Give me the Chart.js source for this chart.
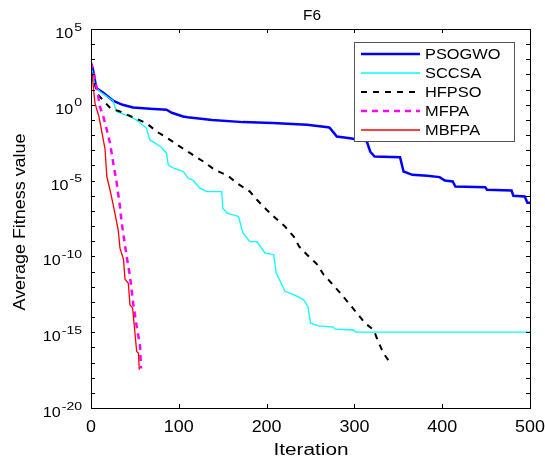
<!DOCTYPE html>
<html>
<head>
<meta charset="utf-8">
<title>F6</title>
<script src="https://cdn.jsdelivr.net/npm/chart.js@4.4.1/dist/chart.umd.min.js"></script>
<style>
  html, body { margin: 0; padding: 0; background: #fff; }
  #chartF6 { display: block; }
</style>
</head>
<body>
<canvas id="chartF6" width="545" height="459"></canvas>
<script>
// convergence curves, iteration -> average fitness
const psogwoIter = [0, 2, 6, 14, 25, 36, 48, 67, 86, 92, 105, 110, 138, 173, 207, 246, 270, 272, 280, 295, 314, 318, 323, 352, 356, 366, 383, 397, 403, 412, 415, 449, 451, 479, 481, 494, 497, 500];
const psogwoVal = [5.0e2, 2.5e2, 1.3e1, 6.2, 1.9, 1.0, 6.6e-1, 5.5e-1, 4.7e-1, 3.0e-1, 1.7e-1, 1.5e-1, 1.0e-1, 7.2e-2, 6.2e-2, 4.8e-2, 3.3e-2, 3.0e-2, 8.1e-3, 6.3e-3, 4.0e-3, 8.3e-4, 3.9e-4, 3.5e-4, 4.0e-5, 2.4e-5, 2.1e-5, 1.7e-5, 1.0e-5, 8.7e-6, 4.1e-6, 3.7e-6, 2.5e-6, 2.2e-6, 1.0e-6, 8.9e-7, 3.5e-7, 3.5e-7];

const sccsaIter = [0, 1.5, 4.5, 10, 25, 29, 44, 52, 63, 67, 79, 86, 88, 94, 105, 111, 116, 124, 132, 149, 150, 155, 168, 173, 181, 189, 198, 208, 211, 221, 234, 242, 247, 250, 259, 276, 278, 299, 301, 500];
const sccsaVal = [2.5e2, 1.6e2, 1.6e1, 7.6, 1.9, 3.6e-1, 1.7e-1, 1.0e-1, 2.9e-2, 4.9e-3, 1.8e-3, 6.5e-4, 1.1e-4, 6.6e-5, 4.0e-5, 1.4e-5, 1.1e-5, 3.2e-6, 1.9e-6, 1.9e-6, 1.5e-7, 7.2e-8, 4.3e-8, 3.5e-9, 9.5e-10, 9.5e-10, 1.7e-10, 1.3e-10, 7.9e-12, 5.0e-13, 2.5e-13, 1.4e-13, 5.0e-14, 4.0e-15, 2.6e-15, 2.2e-15, 1.6e-15, 1.4e-15, 1.0e-15, 1.0e-15];

const hfpsoIter = [0, 1.5, 8, 22, 33, 63, 75, 90, 101, 113, 128, 141, 156, 166, 181, 189, 200, 210, 221, 231, 237, 246, 257, 265, 274, 284, 295, 303, 312, 322, 327, 333, 341];
const hfpsoVal = [1.5e2, 7.4e1, 4.6, 6.0e-1, 3.6e-1, 6.2e-2, 1.7e-2, 4.9e-3, 1.8e-3, 6.5e-4, 1.8e-4, 5.1e-5, 2.1e-5, 6.8e-6, 1.9e-6, 5.4e-7, 1.2e-7, 3.4e-8, 9.3e-9, 2.0e-9, 4.5e-10, 1.3e-10, 3.2e-11, 6.2e-12, 1.7e-12, 3.8e-13, 6.5e-14, 1.8e-14, 4.0e-15, 1.4e-15, 2.5e-16, 4.2e-17, 9.1e-18];

const mfpaIter = [0, 2.6, 8.3, 10, 14, 18, 21.6, 25.4, 29.3, 33, 35, 40.6, 44.4, 48, 52, 55.8, 57];
const mfpaVal = [6.0e2, 2.0e2, 3.5, 7.8e-1, 1.7e-1, 2.2e-2, 3.0e-3, 1.4e-4, 6.8e-6, 1.9e-7, 1.6e-8, 1.0e-10, 5.0e-12, 8.0e-14, 2.5e-15, 1.3e-16, 4.0e-18];

const mbfpaIter = [0, 1.5, 4.5, 9, 16, 18, 21.6, 25, 31, 33, 37, 38.7, 42.5, 44.4, 47.4, 49, 52, 54, 55];
const mbfpaVal = [1.0e2, 7.4e1, 1.3, 1.7e-1, 1.2e-3, 1.9e-5, 2.5e-6, 3.0e-7, 5.6e-9, 3.5e-10, 6.3e-11, 3.2e-12, 1.7e-12, 6.3e-14, 4.0e-14, 4.0e-15, 5.4e-17, 4.2e-17, 3.3e-18];

const xTicks = [0, 100, 200, 300, 400, 500];
const yLabelExps = [5, 0, -5, -10, -15, -20];
const yMinorExps = [5, 4, 3, 2, 1, 0, -1, -2, -3, -4, -5, -6, -7, -8, -9, -10, -11, -12, -13, -14, -15, -16, -17, -18, -19, -20];

const pts = (xs, ys) => xs.map((x, i) => ({ x: x, y: ys[i] }));

const series = [
    { label: 'PSOGWO', color: '#0000ff', width: 2.5, dash: [], iter: psogwoIter, val: psogwoVal },
    { label: 'SCCSA', color: '#00ffff', width: 1.3, dash: [], iter: sccsaIter, val: sccsaVal },
    { label: 'HFPSO', color: '#000000', width: 2, dash: [6, 6], iter: hfpsoIter, val: hfpsoVal },
    { label: 'MFPA', color: '#ff00ff', width: 2.5, dash: [6, 5], iter: mfpaIter, val: mfpaVal },
    { label: 'MBFPA', color: '#ff0000', width: 1.3, dash: [], iter: mbfpaIter, val: mbfpaVal },
];

const FONT = '"Liberation Sans", Arial, Helvetica, sans-serif';

// text with a horizontal stretch, like the exported matlab figure
function stretchText(ctx, s, x, y, size, sx, align, rot) {
    ctx.save();
    ctx.translate(x, y);
    if (rot) ctx.rotate(rot);
    ctx.scale(sx, 1);
    ctx.font = size + 'px ' + FONT;
    ctx.textAlign = align;
    ctx.textBaseline = 'alphabetic';
    ctx.fillStyle = '#000';
    ctx.fillText(s, 0, 0);
    const w = ctx.measureText(s).width * sx;
    ctx.restore();
    return w;
}

const matlabAxes = {
    id: 'matlabAxes',
    afterDatasetsDraw(chart) {
        const ctx = chart.ctx;
        const a = chart.chartArea;
        const xs = chart.scales.x;
        const ys = chart.scales.y;

        ctx.save();
        ctx.strokeStyle = '#000';
        ctx.lineWidth = 1;
        ctx.setLineDash([]);

        // ticks point inwards on every side
        ctx.beginPath();
        xTicks.forEach(v => {
            const px = Math.round(xs.getPixelForValue(v)) + 0.5;
            ctx.moveTo(px, a.bottom); ctx.lineTo(px, a.bottom - 4);
            ctx.moveTo(px, a.top); ctx.lineTo(px, a.top + 4);
        });
        yMinorExps.forEach(e => {
            const py = Math.round(ys.getPixelForValue(Math.pow(10, e))) + 0.5;
            ctx.moveTo(a.left, py); ctx.lineTo(a.left + 4, py);
            ctx.moveTo(a.right, py); ctx.lineTo(a.right - 4, py);
        });
        ctx.stroke();
        ctx.strokeRect(a.left + 0.5, a.top + 0.5, a.right - a.left, a.bottom - a.top);

        // tick labels
        xTicks.forEach(v => {
            stretchText(ctx, String(v), xs.getPixelForValue(v), a.bottom + 23.5, 16, 1.12, 'center');
        });
        yLabelExps.forEach(e => {
            const py = ys.getPixelForValue(Math.pow(10, e));
            const sup = e < 0 ? '-' + Math.abs(e) : String(e);
            const w = stretchText(ctx, sup, a.left - 9, py + 1.5, 10, 1.4, 'right');
            stretchText(ctx, '10', a.left - 10 - w, py + 9, 14, 1.15, 'right');
        });

        // title and axis names
        stretchText(ctx, 'F6', 312, 20, 14, 1.1, 'center');
        stretchText(ctx, 'Iteration', 311, 455, 16, 1.3, 'center');
        stretchText(ctx, 'Average Fitness value', 25, 222, 16, 1.12, 'center', -Math.PI / 2);

        // legend box
        const lx = 354, ly = 42, lw = 160, lh = 99;
        ctx.fillStyle = '#fff';
        ctx.fillRect(lx, ly, lw, lh);
        ctx.strokeStyle = '#555';
        ctx.lineWidth = 1;
        ctx.strokeRect(lx + 0.5, ly + 0.5, lw, lh);
        chart.data.datasets.forEach((ds, i) => {
            const ry = 54 + i * 19;
            ctx.beginPath();
            ctx.strokeStyle = ds.borderColor;
            ctx.lineWidth = ds.borderWidth;
            ctx.setLineDash(ds.borderDash || []);
            ctx.moveTo(361, ry);
            ctx.lineTo(420, ry);
            ctx.stroke();
            ctx.setLineDash([]);
            stretchText(ctx, ds.label, 425, ry + 5, 14, 1.17, 'left');
        });
        ctx.restore();
    }
};

const data = {
    datasets: series.map((s, i) => ({
        label: s.label,
        data: pts(s.iter, s.val),
        borderColor: s.color,
        backgroundColor: s.color,
        borderWidth: s.width,
        borderDash: s.dash,
        pointRadius: 0,
        tension: 0,
        fill: false,
        order: series.length - i
    }))
};

const config = {
    type: 'line',
    data: data,
    options: {
        responsive: false,
        animation: false,
        devicePixelRatio: 1,
        events: [],
        layout: { padding: { top: 29, right: 15, bottom: 0, left: 0 } },
        plugins: {
            legend: { display: false },
            title: { display: false },
            tooltip: { enabled: false }
        },
        scales: {
            x: {
                type: 'linear',
                min: 0,
                max: 500,
                grid: { display: false },
                border: { display: false },
                ticks: { display: false },
                afterFit: (s) => { s.height = 51; }
            },
            y: {
                type: 'logarithmic',
                min: 1e-20,
                max: 1e5,
                grid: { display: false },
                border: { display: false },
                ticks: { display: false },
                afterBuildTicks: (s) => { s.ticks = yLabelExps.map(e => ({ value: Math.pow(10, e) })); },
                afterFit: (s) => { s.width = 91; }
            }
        }
    },
    plugins: [matlabAxes]
};

const chartF6 = new Chart(document.getElementById('chartF6'), config);
</script>
</body>
</html>
